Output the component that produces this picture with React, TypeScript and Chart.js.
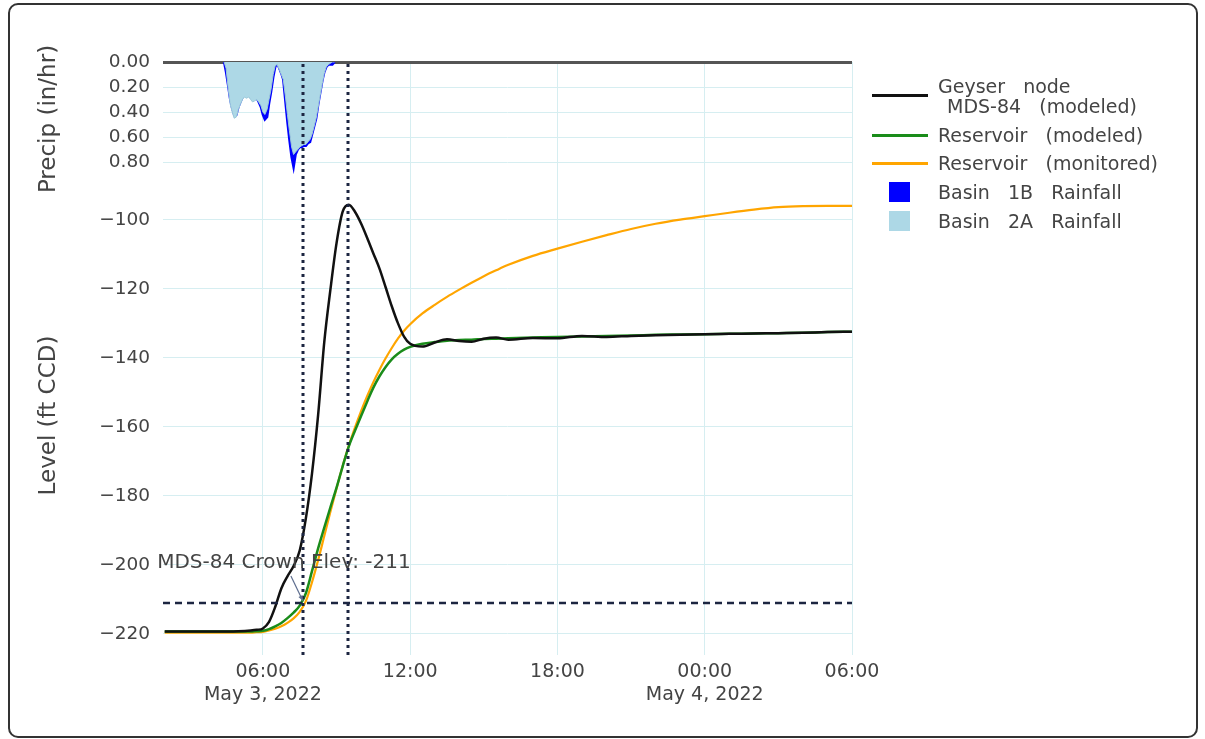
import React, { useEffect, useRef } from "react";
import { Chart, registerables } from "chart.js";

Chart.register(...registerables);

// ---------- data (hours since 00:00 May 3, 2022) ----------
const LEVEL_TIMES = [
  2, 3, 4, 5, 5.5, 5.75,
  6, 6.25, 6.5, 6.75, 7, 7.25, 7.5, 7.75, 8, 8.25, 8.5, 8.75, 9, 9.25, 9.5, 9.75,
  10, 10.25, 10.5, 10.75, 11, 11.25, 11.5, 11.75,
  12, 12.5, 13, 13.5, 14, 14.5, 15, 15.5, 16,
  17, 18, 19, 20, 21, 22, 23, 24, 25, 26, 27, 28, 29, 30,
];

const GEYSER_MDS84 = [
  -219.3, -219.3, -219.3, -219.2, -219.0, -218.8,
  -218.4, -216.5, -212.2, -206.8, -203.3, -200.3, -195.8, -186.5, -173.5, -156.5, -135.4, -120.2, -106.7, -97.6, -95.6, -97.6,
  -101.0, -105.2, -109.7, -114.1, -119.5, -125.0, -129.9, -133.8,
  -135.9, -136.7, -135.5, -134.6, -135.1, -135.3, -134.4, -134.1, -134.7,
  -134.2, -134.3, -133.6, -133.9, -133.6, -133.4, -133.3, -133.1, -133.0, -132.9, -132.8, -132.7, -132.5, -132.4,
];

const RESERVOIR_MODELED = [
  -219.3, -219.3, -219.3, -219.3, -219.3, -219.2,
  -219.1, -218.6, -217.8, -216.8, -215.4, -213.8, -211.8, -208.2, -201.8, -195.2, -189.2, -183.3, -177.6, -171.4, -165.6, -161.1,
  -156.8, -152.6, -148.6, -145.3, -142.6, -140.4, -138.8, -137.6,
  -136.8, -135.9, -135.4, -135.0, -134.8, -134.7, -134.5, -134.4, -134.3,
  -134.1, -133.9, -133.8, -133.6, -133.5, -133.3, -133.2, -133.1, -133.0, -132.9, -132.8, -132.7, -132.5, -132.4,
];

const RESERVOIR_MONITORED = [
  -219.6, -219.6, -219.6, -219.6, -219.6, -219.5,
  -219.4, -219.0, -218.5, -217.8, -216.8, -215.5, -213.6, -210.5, -205.0, -198.6, -191.6, -184.6, -177.8, -171.3, -165.4, -160.2,
  -155.4, -151.0, -147.0, -143.4, -140.1, -137.1, -134.4, -132.1,
  -130.2, -127.1, -124.6, -122.3, -120.2, -118.2, -116.3, -114.6, -113.0,
  -110.4, -108.3, -106.3, -104.4, -102.6, -101.1, -99.9, -98.9, -97.9, -97.0, -96.3, -96.0, -95.9, -95.9,
];

const PRECIP_TIMES = [
  4.42, 4.5, 4.58, 4.67, 4.75, 4.83, 4.92, 5.0, 5.08, 5.17, 5.25, 5.33, 5.42, 5.5, 5.58, 5.67, 5.75, 5.83, 5.92,
  6.0, 6.08, 6.17, 6.25, 6.33, 6.42, 6.5, 6.58, 6.67, 6.75, 6.83, 6.92,
  7.0, 7.08, 7.17, 7.25, 7.33, 7.42, 7.5, 7.58, 7.67, 7.75, 7.83, 7.92,
  8.0, 8.08, 8.17, 8.25, 8.33, 8.42, 8.5, 8.58, 8.67, 8.75, 8.83, 8.92,
];

const BASIN_1B = [
  0, 0.08, 0.18, 0.3, 0.37, 0.42, 0.42, 0.36, 0.32, 0.28, 0.26, 0.27, 0.26, 0.28, 0.3, 0.29, 0.29, 0.32, 0.36,
  0.42, 0.46, 0.44, 0.33, 0.24, 0.12, 0.04, 0.01, 0.05, 0.09, 0.14, 0.32,
  0.48, 0.62, 0.76, 0.84, 0.74, 0.7, 0.68, 0.68, 0.67, 0.67, 0.65, 0.64,
  0.58, 0.52, 0.45, 0.34, 0.25, 0.15, 0.08, 0.04, 0.02, 0.02, 0.02, 0,
];

const BASIN_2A = [
  0, 0.05, 0.2, 0.34, 0.4, 0.45, 0.44, 0.38, 0.34, 0.3, 0.28, 0.29, 0.28, 0.3, 0.32, 0.31, 0.3, 0.32, 0.35,
  0.4, 0.42, 0.38, 0.3, 0.22, 0.1, 0.03, 0.02, 0.06, 0.1, 0.14, 0.28,
  0.42, 0.55, 0.68, 0.74, 0.72, 0.7, 0.68, 0.67, 0.66, 0.66, 0.64, 0.62,
  0.58, 0.52, 0.45, 0.36, 0.27, 0.17, 0.09, 0.04, 0.02, 0.01, 0, 0,
];

const MARKER_TIMES = [7.63, 9.46];
const CROWN_ELEV = -211;
const ANNOTATION_TEXT = `MDS-84 Crown Elev: ${CROWN_ELEV}`;

const X_TICKS = [6, 12, 18, 24, 30];
const X_DATE_LABELS: Record<number, string> = { 6: "May 3, 2022", 24: "May 4, 2022" };
const LEVEL_TICKS = [-220, -200, -180, -160, -140, -120, -100];
const PRECIP_TICKS = [0, 0.2, 0.4, 0.6, 0.8];

// ---------- styling ----------
const FONT = "'DejaVu Sans', Verdana, sans-serif";
const TEXT = "#444";
const GRID = "#d6eef1";
const C_GEYSER = "#111111";
const C_RES_MOD = "#1a8c1a";
const C_RES_MON = "#ffa500";
const C_1B = "#0000ff";
const C_2A = "#add8e6";

const pairs = (xs: number[], ys: number[]) => xs.map((x, i) => ({ x, y: ys[i] }));

const hourLabel = (v: number) => {
  const h = ((v % 24) + 24) % 24;
  return `${String(h).padStart(2, "0")}:00`;
};

const refLines = {
  id: "refLines",
  afterDatasetsDraw(chart: any) {
    const { ctx, chartArea: a, scales } = chart;
    const xs = scales.x;
    const ys = scales.y;
    ctx.save();
    ctx.strokeStyle = "#1c2541";
    ctx.lineWidth = 3;
    ctx.setLineDash([3, 4]);
    for (const t of MARKER_TIMES) {
      const px = Math.round(xs.getPixelForValue(t));
      ctx.beginPath();
      ctx.moveTo(px, a.top + 2);
      ctx.lineTo(px, a.bottom + 2);
      ctx.stroke();
    }
    const py = Math.round(ys.getPixelForValue(CROWN_ELEV));
    ctx.lineWidth = 2.5;
    ctx.setLineDash([7, 5]);
    ctx.beginPath();
    ctx.moveTo(a.left, py);
    ctx.lineTo(a.right, py);
    ctx.stroke();

    // annotation with arrow
    const ax = xs.getPixelForValue(MARKER_TIMES[0]);
    ctx.setLineDash([]);
    ctx.strokeStyle = "#5d6d8e";
    ctx.fillStyle = "#5d6d8e";
    ctx.lineWidth = 1.2;
    const x0 = ax - 12, y0 = py - 27, x1 = ax, y1 = py - 2;
    ctx.beginPath();
    ctx.moveTo(x0, y0);
    ctx.lineTo(x1, y1);
    ctx.stroke();
    const ang = Math.atan2(y1 - y0, x1 - x0);
    ctx.beginPath();
    ctx.moveTo(x1, y1);
    ctx.lineTo(x1 - 6 * Math.cos(ang - 0.4), y1 - 6 * Math.sin(ang - 0.4));
    ctx.lineTo(x1 - 6 * Math.cos(ang + 0.4), y1 - 6 * Math.sin(ang + 0.4));
    ctx.closePath();
    ctx.fill();

    ctx.fillStyle = TEXT;
    ctx.font = `20px ${FONT}`;
    ctx.textAlign = "center";
    ctx.textBaseline = "middle";
    ctx.fillText(ANNOTATION_TEXT, ax - 19, py - 40);
    ctx.restore();
  },
};

const LEGEND = [
  { kind: "line", color: C_GEYSER, lines: ["Geyser  node", " MDS-84  (modeled)"] },
  { kind: "line", color: C_RES_MOD, lines: ["Reservoir  (modeled)"] },
  { kind: "line", color: C_RES_MON, lines: ["Reservoir  (monitored)"] },
  { kind: "box", color: C_1B, lines: ["Basin  1B  Rainfall"] },
  { kind: "box", color: C_2A, lines: ["Basin  2A  Rainfall"] },
];
const LEGEND_CENTERS = [95.5, 135, 163, 192, 221];

export default function App() {
  const ref = useRef<HTMLCanvasElement>(null);

  useEffect(() => {
    if (!ref.current) return;
    const chart = new Chart(ref.current, {
      type: "line",
      data: {
        datasets: [
          {
            label: "Geyser node MDS-84 (modeled)",
            data: pairs(LEVEL_TIMES, GEYSER_MDS84),
            yAxisID: "y",
            borderColor: C_GEYSER,
            borderWidth: 2.5,
            pointRadius: 0,
            cubicInterpolationMode: "monotone",
            order: 0,
          },
          {
            label: "Reservoir (modeled)",
            data: pairs(LEVEL_TIMES, RESERVOIR_MODELED),
            yAxisID: "y",
            borderColor: C_RES_MOD,
            borderWidth: 2.5,
            pointRadius: 0,
            cubicInterpolationMode: "monotone",
            order: 1,
          },
          {
            label: "Reservoir (monitored)",
            data: pairs(LEVEL_TIMES, RESERVOIR_MONITORED),
            yAxisID: "y",
            borderColor: C_RES_MON,
            borderWidth: 2.2,
            pointRadius: 0,
            cubicInterpolationMode: "monotone",
            order: 2,
          },
          {
            label: "Basin 2A Rainfall",
            data: pairs(PRECIP_TIMES, BASIN_2A),
            yAxisID: "yP",
            borderColor: "#9cc9da",
            backgroundColor: C_2A,
            borderWidth: 1,
            pointRadius: 0,
            fill: "origin",
            order: 3,
          },
          {
            label: "Basin 1B Rainfall",
            data: pairs(PRECIP_TIMES, BASIN_1B),
            yAxisID: "yP",
            borderColor: C_1B,
            backgroundColor: C_1B,
            borderWidth: 2.5,
            pointRadius: 0,
            fill: "origin",
            order: 4,
          },
        ],
      },
      options: {
        responsive: false,
        animation: false,
        devicePixelRatio: 1,
        layout: { padding: { left: 0, top: 62, right: 353, bottom: 0 } },
        plugins: { legend: { display: false }, tooltip: { enabled: false } },
        scales: {
          x: {
            type: "linear",
            min: 1.93,
            max: 30,
            afterBuildTicks: (s: any) => {
              s.ticks = X_TICKS.map((v) => ({ value: v }));
            },
            afterFit: (s: any) => {
              s.height = 84;
            },
            grid: { color: GRID, drawTicks: false },
            border: { display: false },
            ticks: {
              font: { family: FONT, size: 19 },
              color: TEXT,
              padding: 6,
              maxRotation: 0,
              autoSkip: false,
              callback: (v: any) => {
                const d = X_DATE_LABELS[v as number];
                return d ? [hourLabel(v as number), d] : hourLabel(v as number);
              },
            },
          },
          y: {
            type: "linear",
            position: "left",
            stack: "v",
            stackWeight: 479,
            weight: 0,
            min: -226.1,
            max: -87.25,
            afterBuildTicks: (s: any) => {
              s.ticks = LEVEL_TICKS.map((v) => ({ value: v }));
            },
            afterFit: (s: any) => {
              s.width = 163;
            },
            grid: { color: GRID, drawTicks: false },
            border: { display: false },
            ticks: {
              font: { family: FONT, size: 18.5 },
              color: TEXT,
              padding: 13,
              autoSkip: false,
              callback: (v: any) => (v < 0 ? `\u2212${Math.abs(v)}` : `${v}`),
            },
            title: {
              display: true,
              text: "Level (ft CCD)",
              font: { family: FONT, size: 23 },
              color: TEXT,
              padding: { top: 35, bottom: 0 },
            },
          },
          yP: {
            type: "linear",
            position: "left",
            stack: "v",
            stackWeight: 114,
            weight: 1,
            reverse: true,
            min: 0,
            max: 0.912,
            afterBuildTicks: (s: any) => {
              s.ticks = PRECIP_TICKS.map((v) => ({ value: v }));
            },
            afterFit: (s: any) => {
              s.width = 163;
            },
            grid: {
              color: (c: any) => (c.tick && c.tick.value === 0 ? "#555" : GRID),
              lineWidth: (c: any) => (c.tick && c.tick.value === 0 ? 3 : 1),
              drawTicks: false,
            },
            border: { display: false },
            ticks: {
              font: { family: FONT, size: 18.5 },
              color: TEXT,
              padding: 13,
              autoSkip: false,
              callback: (v: any) => Number(v).toFixed(2),
            },
            title: {
              display: true,
              text: "Precip (in/hr)",
              font: { family: FONT, size: 23 },
              color: TEXT,
              padding: { top: 35, bottom: 0 },
            },
          },
        },
      } as any,
      plugins: [refLines],
    });
    return () => chart.destroy();
  }, []);

  return (
    <div
      style={{
        position: "absolute",
        left: 0,
        top: 0,
        width: 1205,
        height: 739,
        background: "#fff",
        overflow: "hidden",
        fontFamily: FONT,
      }}
    >
      <div
        style={{
          position: "absolute",
          left: 8,
          top: 3,
          width: 1186,
          height: 731,
          border: "2px solid #333",
          borderRadius: 10,
        }}
      />
      <canvas
        ref={ref}
        width={1205}
        height={739}
        style={{ position: "absolute", left: 0, top: 0, width: 1205, height: 739 }}
      />
      {LEGEND.map((item, i) => {
        const c = LEGEND_CENTERS[i];
        return (
          <React.Fragment key={i}>
            {item.kind === "line" ? (
              <div
                style={{
                  position: "absolute",
                  left: 872,
                  top: c - 1.5,
                  width: 56,
                  height: 3,
                  background: item.color,
                }}
              />
            ) : (
              <div
                style={{
                  position: "absolute",
                  left: 889,
                  top: c - 10,
                  width: 21,
                  height: 20,
                  background: item.color,
                }}
              />
            )}
            <div
              style={{
                position: "absolute",
                left: 938,
                top: (i === 0 ? 86 : c) - 10,
                fontSize: 19,
                lineHeight: "20px",
                wordSpacing: 3,
                color: TEXT,
                whiteSpace: "pre",
              }}
            >
              {item.lines.map((l, j) => (
                <div key={j}>{l}</div>
              ))}
            </div>
          </React.Fragment>
        );
      })}
    </div>
  );
}
